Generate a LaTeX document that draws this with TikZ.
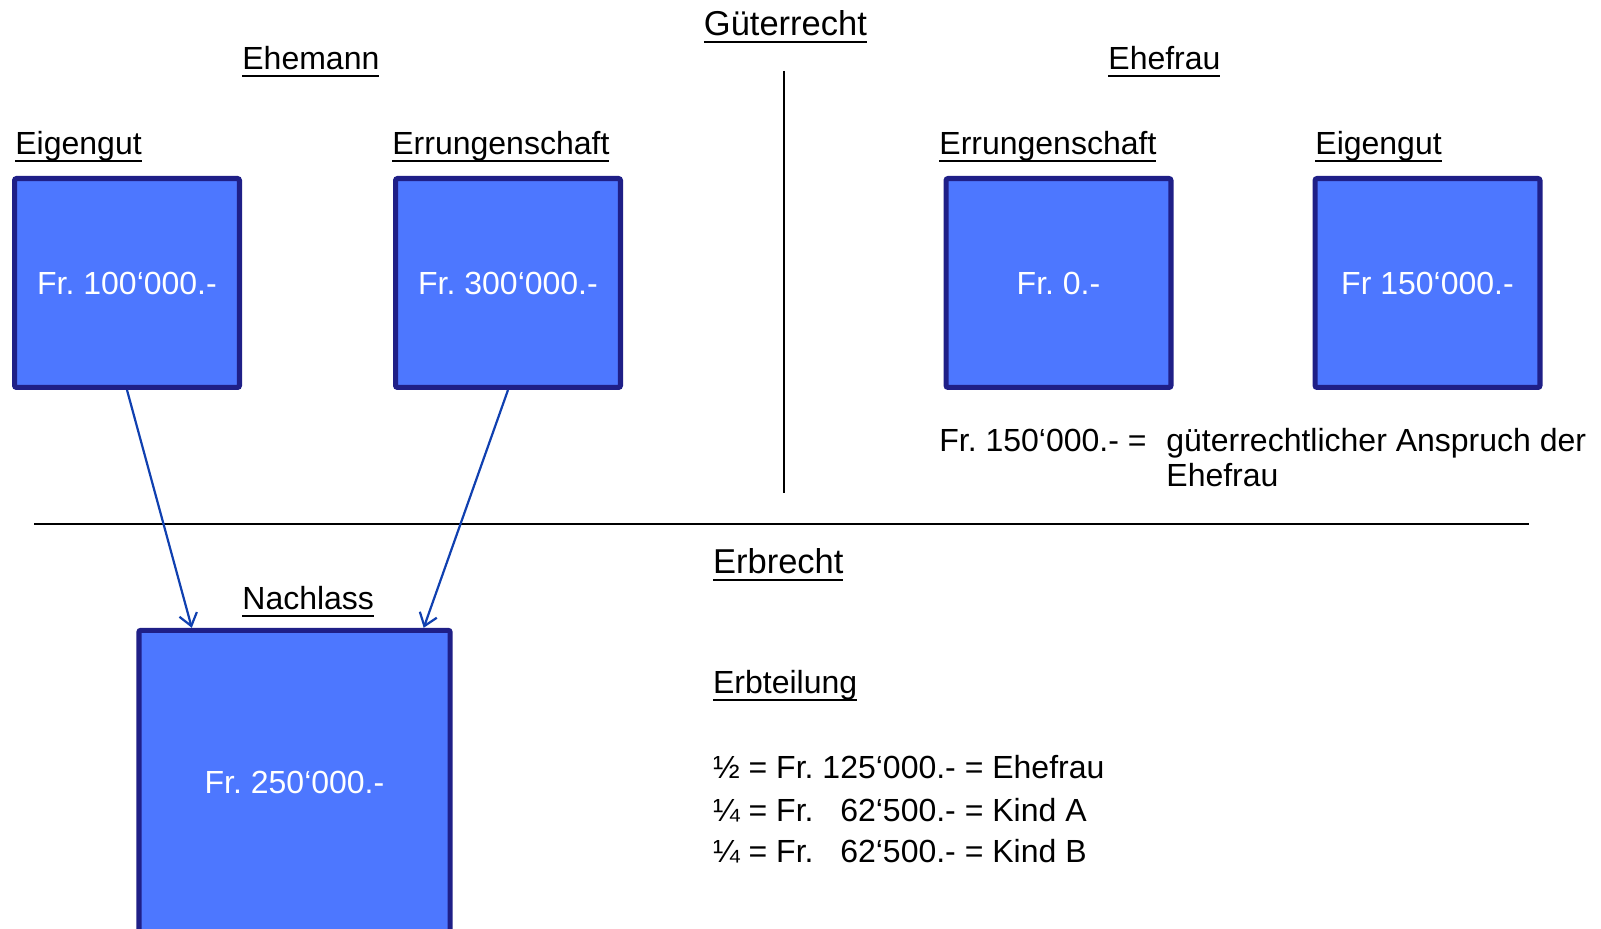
\documentclass[tikz,border=0pt]{standalone}
\usepackage{fontspec}
\setmainfont{Liberation Sans}
\usetikzlibrary{arrows.meta}
\frenchspacing
\definecolor{boxblue}{HTML}{4D77FF}
\definecolor{boxedge}{HTML}{1F1F87}
\definecolor{arrowblue}{HTML}{1040B0}
% underlined heading
\newcommand{\ulbox}[1]{\setbox0\hbox{#1}\rlap{\rule[-3.6pt]{\wd0}{1.2pt}}\box0}
\tikzset{
	asset/.style={draw=boxedge, line width=2.6pt, fill=boxblue, text=white, rounded corners=1pt,
		minimum width=112.4pt, minimum height=104.4pt, inner sep=0pt, font=\fontsize{16}{17.5}\selectfont},
	head/.style={anchor=base west, inner sep=0pt, font=\fontsize{16}{17.5}\selectfont},
	bigtitle/.style={head, font=\fontsize{17.25}{19}\selectfont},
	flow/.style={arrowblue, line width=1.1pt, -{Straight Barb[length=6pt,width=9pt]}},
	divider/.style={line width=0.7pt}
}
\begin{document}
\begin{tikzpicture}[x=0.5pt, y=-0.5pt]
			\useasboundingbox (0,0) rectangle (1601,929);
			\clip (0,0) rectangle (1601,929);
			% Gueterrecht
			\node[bigtitle] (gueter) at (703.5,36) {\ulbox{Güterrecht}};
			\node[head] (mann) at (242,70) {\ulbox{Ehemann}};
			\node[head] (frau) at (1108,70) {\ulbox{Ehefrau}};
			\node[head] (eigenMTitel) at (15,155) {\ulbox{Eigengut}};
			\node[head] (errMTitel) at (392,155) {\ulbox{Errungenschaft}};
			\node[head] (errFTitel) at (939,155) {\ulbox{Errungenschaft}};
			\node[head] (eigenFTitel) at (1315,155) {\ulbox{Eigengut}};
			\node[asset] (eigenM) at (127,283) {Fr. 100‘000.-};
			\node[asset] (errM) at (508,283) {Fr. 300‘000.-};
			\node[asset] (errF) at (1058.5,283) {Fr. 0.-};
			\node[asset] (eigenF) at (1427.5,283) {Fr 150‘000.-};
			\node[head] (betrag) at (939,452) {Fr. 150‘000.- =};
			\node[head, align=left] (anspruch) at (1166,487) {güterrechtlicher Anspruch der\\Ehefrau};
			\draw[divider] (784,71) -- (784,493);
			\draw[divider] (34,524) -- (1529,524);
			% Erbrecht
			\node[bigtitle] (erb) at (712.7,574) {\ulbox{Erbrecht}};
			\node[head] (nachlassTitel) at (242,610) {\ulbox{Nachlass}};
			\node[asset, minimum width=155.6pt, minimum height=151.6pt] (nachlass) at (294.5,782) {Fr. 250‘000.-};
			\draw[flow] (eigenM.south) -- ([xshift=27.75pt]nachlass.north west);
			\draw[flow] (errM.south) -- ([xshift=-14.5pt]nachlass.north east);
			\node[head] (teilung) at (712.7,694) {\ulbox{Erbteilung}};
			\node[head] (anteilFrau) at (712.7,779) {½ = Fr. 125‘000.- = Ehefrau};
			\node[head] (anteilA) at (712.7,821) {¼ = Fr. \phantom{1}62‘500.- = Kind A};
			\node[head] (anteilB) at (712.7,863) {¼ = Fr. \phantom{1}62‘500.- = Kind B};
		\end{tikzpicture}
\end{document}
